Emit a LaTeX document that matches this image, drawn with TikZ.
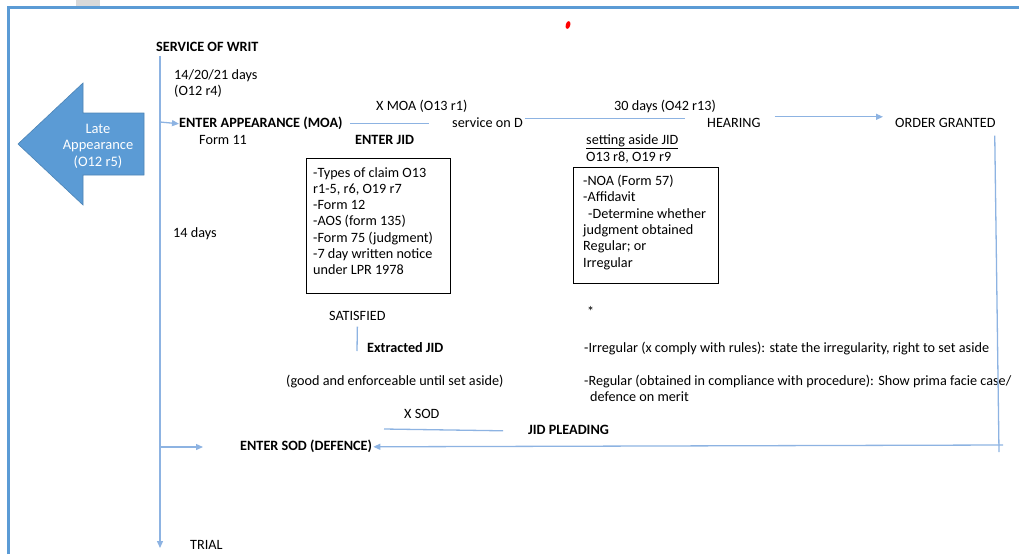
\documentclass[tikz,border=0pt]{standalone}
\usepackage{fontspec}
\setmainfont{Carlito}
\usetikzlibrary{arrows.meta}
\definecolor{frameblue}{HTML}{5B9BD5}
\definecolor{linkblue}{HTML}{8DB3E2}
\begin{document}
\begin{tikzpicture}[x=1pt,y=-1pt,
  lbl/.style={inner sep=0pt, anchor=west, font=\fontsize{14.2}{16.3}\selectfont, text height=10.3pt, text depth=3pt, yshift=-1.8pt},
  blbl/.style={lbl, font=\fontsize{14.2}{16.3}\selectfont\bfseries},
  para/.style={inner sep=0pt, anchor=north west, align=left, font=\fontsize{14.2}{16.3}\selectfont, yshift=-2pt},
  boxst/.style={draw=black, line width=0.8pt, inner sep=0pt, anchor=north west},
  link/.style={draw=linkblue, line width=1.3pt},
  arr/.style={link, -{Triangle[length=7pt,width=6pt]}}
]
\useasboundingbox (0,0) rectangle (1019,554);
% frame
\fill[gray!30] (76,0) rectangle (100,6);
\draw[frameblue, line width=3pt] (8,554) -- (8,7) -- (1019,7);
\fill[red, rotate around={-15:(568,25)}] (568,25) ellipse [x radius=2.3pt, y radius=4pt];

% late appearance arrow
\filldraw[fill=frameblue, draw=frameblue!85!black, line width=0.6pt]
  (18,144) -- (83,83) -- (83,113) -- (144,113) -- (144,175) -- (83,175) -- (83,205) -- cycle;
\node (late) [inner sep=0pt, align=center, text=white, font=\fontsize{14.5}{16.5}\selectfont] at (98,146) {Late\\Appearance\\(O12 r5)};

% texts
\node (svc) [blbl] at (156,46) {SERVICE OF WRIT};
\node (days) [para] at (174,67) {14/20/21 days\\(O12 r4)};
\node (moa) [blbl] at (179,122) {ENTER APPEARANCE (MOA)};
\node (form11) [lbl] at (199,139) {Form 11};
\node (xmoa) [lbl] at (376,105) {X MOA (O13 r1)};
\node (jid) [blbl] at (355,139) {ENTER JID};
\node (svcD) [lbl] at (452,122) {service on D};
\node (thirty) [lbl] at (614,105) {30 days (O42 r13)};
\node (hearing) [lbl] at (707,122) {HEARING};
\node (order) [lbl] at (895,122) {ORDER GRANTED};
\node (setaside) [lbl] at (586,139) {\underline{setting aside JID}};
\node (o13) [lbl] at (586,156) {O13 r8, O19 r9};
\node (fourteen) [lbl] at (173,232) {14 days};

% box 1
\node (box1) [boxst, minimum width=144pt, minimum height=135pt] at (306,158) {};
\node (box1t) [para] at (313,165) {-Types of claim O13\\r1-5, r6, O19 r7\\-Form 12\\-AOS (form 135)\\-Form 75 (judgment)\\-7 day written notice\\under LPR 1978};
% box 2
\node (box2) [boxst, minimum width=145pt, minimum height=116pt] at (573,167) {};
\node (box2t) [para] at (583,173) {-NOA (Form 57)\\-Affidavit\\\hspace*{5pt}-Determine whether\\judgment obtained\\Regular; or\\Irregular};

\node (satis) [lbl] at (329,315) {SATISFIED};
\node (extr) [blbl] at (367,347) {Extracted JID};
\node (good) [lbl] at (286,380) {(good and enforceable until set aside)};
\node (star) [lbl] at (587,311) {*};
\node (irr) [lbl] at (584,347) {-Irregular (x comply with rules): state the irregularity, right to set aside};
\node (reg) [para] at (584,373) {-Regular (obtained in compliance with procedure): Show prima facie case/\\\hspace*{6pt}defence on merit};
\node (xsod) [lbl] at (404,413) {X SOD};
\node (jidp) [blbl] at (528,429) {JID PLEADING};
\node (sod) [blbl] at (240,445) {ENTER SOD (DEFENCE)};
\node (trial) [lbl] at (190,544) {TRIAL};

% connectors
\coordinate (vtop) at (160,56);
\coordinate (vmoa) at (160,122);
\coordinate (vsod) at (160,447);
\coordinate (sodin) at (203,447);
\coordinate (vbot) at (160,548);
\draw[arr] (vtop) -- (vbot);
\draw[arr] (vmoa) -- (moa.west);
\draw[arr] (vsod) -- (sodin);

\draw[link] ([xshift=7pt]moa.east) -- ([xshift=-23pt]svcD.west);
\draw[link] ([xshift=2pt,yshift=5pt]svcD.east) -- ([xshift=-22pt,yshift=5pt]hearing.west);
\draw[arr] ([xshift=14pt,yshift=7pt]hearing.east) -- ([xshift=-12pt,yshift=7pt]order.west);

\coordinate (ocorner) at (999,452);
\coordinate (hright) at (1003,445);
\draw[link] ([xshift=-1pt,yshift=-5pt]order.south east) -- (ocorner);
\draw[arr] (hright) -- ([xshift=1pt]sod.east);

\coordinate (satisend) at (357,351);
\draw[link] ([yshift=-3pt]satis.south) -- (satisend);
\coordinate (xsodstart) at (384,429);
\draw[link] (xsodstart) -- ([xshift=-25pt]jidp.west);
\end{tikzpicture}
\end{document}
